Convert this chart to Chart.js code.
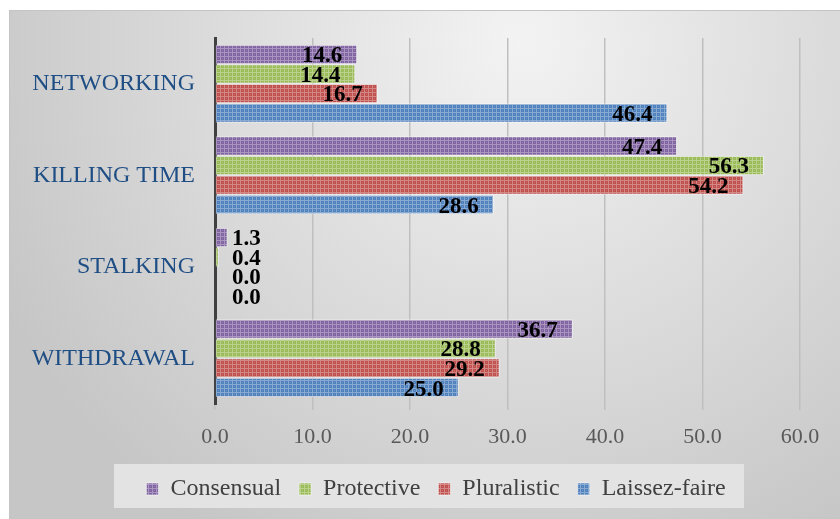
<!DOCTYPE html>
<html>
<head>
<meta charset="utf-8">
<script src="https://cdn.jsdelivr.net/npm/chart.js@4.4.0/dist/chart.umd.min.js"></script>
<style>
  html, body { margin: 0; padding: 0; background: #fff; }
  #wrap { width: 840px; height: 519px; }
</style>
</head>
<body>
<div id="wrap"><canvas id="chart"></canvas></div>
<script>
// data
const categories = ['NETWORKING', 'KILLING TIME', 'STALKING', 'WITHDRAWAL'];
const seriesNames = ['Consensual', 'Protective', 'Pluralistic', 'Laissez-faire'];
const consensual = [14.6, 47.4, 1.3, 36.7];
const protective = [14.4, 56.3, 0.4, 28.8];
const pluralistic = [16.7, 54.2, 0.0, 29.2];
const laissezFaire = [46.4, 28.6, 0.0, 25.0];
const xTicks = [0, 10, 20, 30, 40, 50, 60];

const seriesColors = ['#8064A2', '#9BBB59', '#C0504D', '#4F81BD'];
const serif = "'Liberation Serif', 'Times New Roman', serif";

// small dotted texture like the office fill
function makePattern(color) {
    const p = document.createElement('canvas');
    p.width = 4; p.height = 4;
    const g = p.getContext('2d');
    g.fillStyle = color;
    g.fillRect(0, 0, 4, 4);
    g.fillStyle = 'rgba(255,255,255,0.32)';
    g.fillRect(0, 0, 4, 1);
    g.fillRect(0, 1, 1, 3);
    g.fillStyle = 'rgba(255,255,255,0.15)';
    g.fillRect(2, 2, 1, 1);
    return g.createPattern(p, 'repeat');
}

const backgroundPlugin = {
    id: 'frameBg',
    afterLayout(chart) {
        // legend sits a bit right of the canvas centre in the original
        const lg = chart.legend;
        if (lg) { lg.left += 26; lg.right += 26; }
    },
    beforeDraw(chart) {
        const ctx = chart.ctx;
        ctx.save();
        ctx.fillStyle = '#fff';
        ctx.fillRect(0, 0, chart.width, chart.height);
        const grd = ctx.createRadialGradient(520, 40, 0, 520, 40, 580);
        grd.addColorStop(0, '#f3f3f3');
        grd.addColorStop(1, '#c6c6c6');
        ctx.fillStyle = grd;
        ctx.fillRect(9, 10, chart.width - 9, chart.height - 10);
        ctx.strokeStyle = '#c4c4c4';
        ctx.lineWidth = 1;
        ctx.strokeRect(9.5, 10.5, chart.width, chart.height);

        // legend panel
        const lg = chart.legend;
        if (lg) {
            const cx = (lg.left + lg.right) / 2;
            const midY = (lg.top + lg.bottom) / 2;
            ctx.fillStyle = '#e3e3e3';
            ctx.fillRect(cx - 322, midY - 21, 630, 44);
        }
        ctx.restore();
    }
};

const valueLabels = {
    id: 'valueLabels',
    afterDatasetsDraw(chart) {
        const ctx = chart.ctx;
        const x0 = chart.scales.x.getPixelForValue(0);
        ctx.save();
        ctx.font = 'bold 23px ' + serif;
        ctx.fillStyle = '#000';
        ctx.textBaseline = 'middle';
        chart.data.datasets.forEach((ds, i) => {
            chart.getDatasetMeta(i).data.forEach((bar, j) => {
                const v = ds.data[j];
                const txt = v.toFixed(1);
                if (v >= 5) {
                    ctx.textAlign = 'right';
                    ctx.fillText(txt, bar.x - 15, bar.y + 2);
                } else {
                    ctx.textAlign = 'left';
                    ctx.fillText(txt, x0 + 17, bar.y + 2);
                }
            });
        });
        ctx.restore();
    }
};

const seriesData = [consensual, protective, pluralistic, laissezFaire];
const datasets = seriesNames.map((name, i) => ({
    label: name,
    data: seriesData[i],
    backgroundColor: makePattern(seriesColors[i]),
    borderColor: 'rgba(255,255,255,0.5)',
    borderWidth: 1,
    categoryPercentage: 0.855,
    barPercentage: 1
}));

new Chart(document.getElementById('chart'), {
    type: 'bar',
    data: { labels: categories, datasets: datasets },
    options: {
        indexAxis: 'y',
        responsive: true,
        maintainAspectRatio: false,
        animation: false,
        layout: { padding: { top: 38, right: 40, bottom: 8, left: 20 } },
        scales: {
            x: {
                min: xTicks[0],
                max: xTicks[xTicks.length - 1],
                afterBuildTicks: (scale) => { scale.ticks = xTicks.map(v => ({ value: v })); },
                afterFit: (scale) => { scale.height = 55; },
                ticks: {
                    callback: (v) => Number(v).toFixed(1),
                    font: { family: serif, size: 22 },
                    color: '#595959',
                    padding: 14
                },
                grid: { color: '#bfbfbf', lineWidth: 1.5, tickLength: 6, drawTicks: true },
                border: { display: false }
            },
            y: {
                afterFit: (scale) => { scale.width = 195; },
                ticks: {
                    font: { family: serif, size: 24 },
                    color: '#1F4E85',
                    padding: 12
                },
                grid: { display: false },
                border: { display: true, color: '#404040', width: 3 }
            }
        },
        plugins: {
            legend: {
                position: 'bottom',
                labels: {
                    font: { family: serif, size: 24 },
                    color: '#404040',
                    boxWidth: 12,
                    boxHeight: 12,
                    padding: 18
                }
            },
            tooltip: { enabled: false }
        }
    },
    plugins: [backgroundPlugin, valueLabels]
});
</script>
</body>
</html>
